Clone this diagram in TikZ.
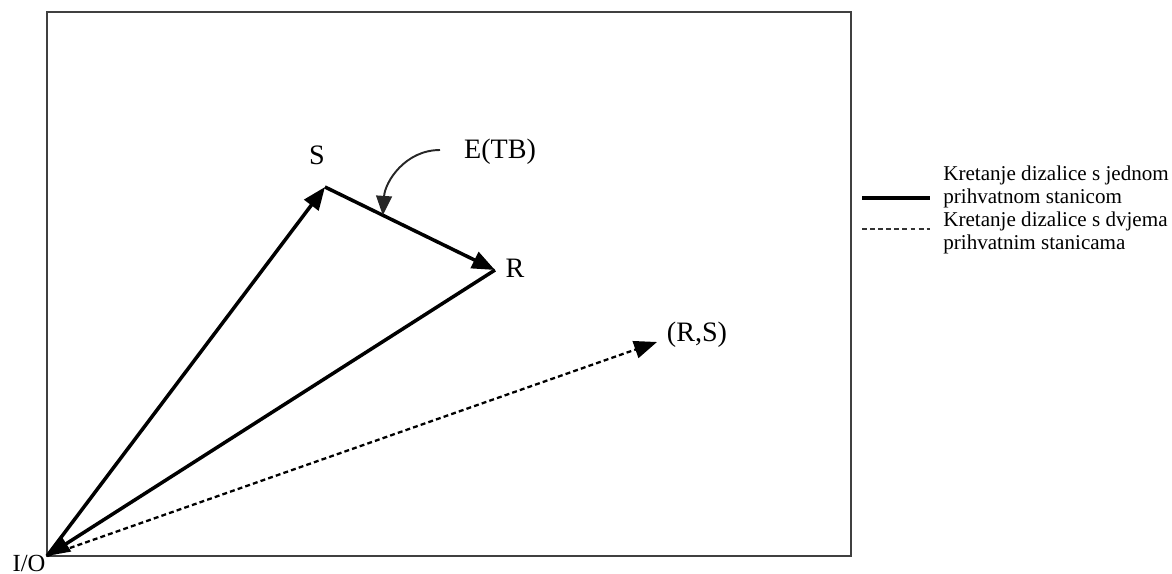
\documentclass[tikz,border=0pt]{standalone}
\usepackage{fontspec}
\setmainfont{Liberation Serif}
\usetikzlibrary{arrows.meta,positioning,calc}
\tikzset{
    %Define standard arrow tip
    >={Triangle[length=13pt,width=10pt]},
    %Define style for the frame
    frame/.style={
           draw=black!75,
           line width=1.1pt},
    % Define arrow styles
    single/.style={
           ->,
           line width=2pt},
    dual/.style={
           ->,
           line width=1.3pt,
           dash pattern=on 2.8pt off 1.8pt},
    pointer/.style={
           -{Triangle[length=11pt,width=9pt]},
           line width=1.1pt,
           black!85},
    % Define text styles
    lbl/.style={
           font=\fontsize{16}{19}\selectfont,
           inner sep=0pt},
    legtext/.style={
           font=\fontsize{12}{13}\selectfont,
           align=left,
           anchor=west,
           inner sep=0pt}
}

\begin{document}
\begin{tikzpicture}[x=0.02cm, y=-0.02cm]
    \useasboundingbox (0,0) rectangle (1172,574);
    % FRAME
    \draw[frame] (47,12) rectangle (851,556);

    % POINTS
    \coordinate (io) at (47,556);
    \coordinate (s) at (325,187);
    \coordinate (r) at (495,270);
    \coordinate (rs) at (657,342);

    \node[lbl, font=\fontsize{14}{17}\selectfont] at (29,563) (ioLabel) {I/O};
    \node[lbl] at (317,155) (sLabel) {S};
    \node[lbl] at (515,268) (rLabel) {R};
    \node[lbl] at (500,152) (tbLabel) {E(TB)};
    \node[lbl] at (697,335) (rsLabel) {(R,S)};

    % CYCLES
    \draw[single] (io) -- (s);
    \draw[single] (s) -- (r);
    \draw[single] (r) -- (io);
    \draw[dual] (io) -- (rs);

    \coordinate (tbFrom) at (440,150);
    \draw[pointer] (tbFrom) .. controls (405,150) and (385,182) .. ($(s)!0.34!(r)$);

    % LEGEND
    \coordinate (solidA) at (862,198);
    \coordinate (solidB) at (930,198);
    \coordinate (dashA) at (862,229);
    \coordinate (dashB) at (930,229);
    \draw[line width=2.8pt] (solidA) -- (solidB);
    \draw[line width=1.3pt, dash pattern=on 2.8pt off 1.8pt, black!80] (dashA) -- (dashB);

    \node[legtext] at (943,187) (legSingle) {Kretanje dizalice s jednom\\prihvatnom stanicom};
    \node[legtext] at (943,233) (legDual) {Kretanje dizalice s dvjema\\prihvatnim stanicama};
\end{tikzpicture}
\end{document}
